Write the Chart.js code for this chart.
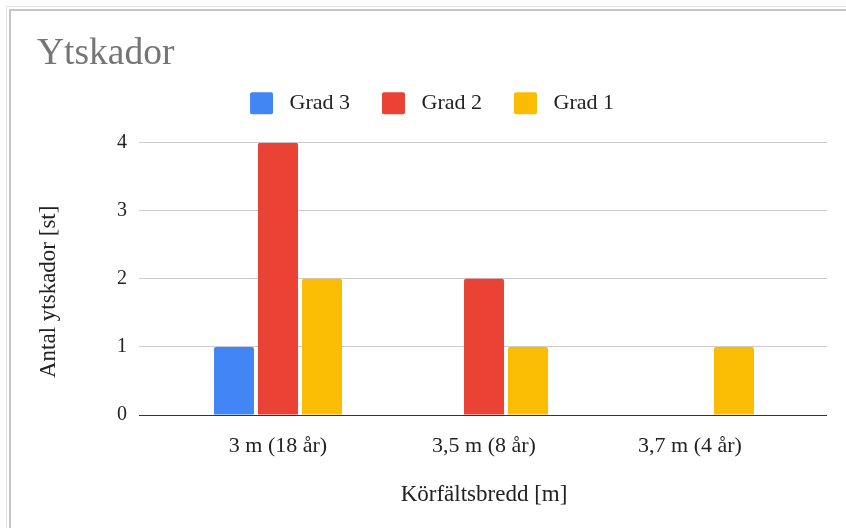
<!DOCTYPE html>
<html>
<head>
<meta charset="utf-8">
<script src="https://cdn.jsdelivr.net/npm/chart.js@4/dist/chart.umd.min.js"></script>
<style>
  html, body { margin: 0; padding: 0; background: #fff; }
  #wrap { position: relative; width: 846px; height: 528px; overflow: hidden; }
  .frame-outer { position: absolute; left: 6px; top: 6px; width: 1000px; height: 1000px;
                 border-left: 1px solid #e0e0e0; border-top: 1px solid #e0e0e0; }
  .frame-inner { position: absolute; left: 9px; top: 9px; width: 1000px; height: 1000px;
                 border-left: 2px solid #c6c6c6; border-top: 2px solid #c6c6c6; }
  canvas { position: absolute; left: 0; top: 0; }
</style>
</head>
<body>
<div id="wrap">
  <div class="frame-outer"></div>
  <div class="frame-inner"></div>
  <canvas id="chart" width="846" height="528"></canvas>
</div>
<script>
// Lane widths (with years of data) and number of surface defects per grade
const categories = ['3 m (18 år)', '3,5 m (8 år)', '3,7 m (4 år)'];
const grad3 = [1, 0, 0];
const grad2 = [4, 2, 0];
const grad1 = [2, 1, 1];
const yTicks = [0, 1, 2, 3, 4];

const chartTitle = 'Ytskador';
const xAxisTitle = 'Körfältsbredd [m]';
const yAxisTitle = 'Antal ytskador [st]';

const FONT = '"Liberation Serif", "Times New Roman", serif';
const TEXT = '#222222';
const gridColor = (ctx) => (ctx.tick && ctx.tick.value === 0 ? '#333333' : '#cccccc');

// Rotated y-axis title, placed slightly below the plot's vertical centre
const yTitlePlugin = {
  id: 'yTitle',
  afterDraw(chart) {
    const { ctx, chartArea } = chart;
    ctx.save();
    ctx.translate(chart.options.layout.padding.left + 12, (chartArea.top + chartArea.bottom) / 2 + 13);
    ctx.rotate(-Math.PI / 2);
    ctx.font = '23px ' + FONT;
    ctx.fillStyle = TEXT;
    ctx.textAlign = 'center';
    ctx.textBaseline = 'middle';
    ctx.fillText(yAxisTitle, 0, 0);
    ctx.restore();
  }
};

const barStyle = {
  borderRadius: 2,
  borderSkipped: 'start',
  categoryPercentage: 0.641,
  barPercentage: 0.909
};

new Chart(document.getElementById('chart'), {
  type: 'bar',
  data: {
    labels: categories,
    datasets: [
      { label: 'Grad 3', data: grad3, backgroundColor: '#4285F4', ...barStyle },
      { label: 'Grad 2', data: grad2, backgroundColor: '#EA4335', ...barStyle },
      { label: 'Grad 1', data: grad1, backgroundColor: '#FBBC04', ...barStyle }
    ]
  },
  options: {
    responsive: false,
    animation: false,
    devicePixelRatio: 1,
    layout: { padding: { top: 10, left: 37, right: 19, bottom: 15 } },
    plugins: {
      title: {
        display: true,
        text: chartTitle,
        align: 'start',
        color: '#757575',
        font: { family: FONT, size: 37.5, weight: 'normal', lineHeight: 0.3 },
        padding: { top: 39, bottom: 0 }
      },
      legend: {
        position: 'top',
        labels: {
          boxWidth: 23,
          boxHeight: 22,
          padding: 32,
          color: TEXT,
          font: { family: FONT, size: 22 },
          useBorderRadius: true,
          borderRadius: 2,
          generateLabels: (chart) =>
            Chart.defaults.plugins.legend.labels.generateLabels(chart)
              .map((item) => ({ ...item, text: ' ' + item.text }))
        }
      },
      tooltip: { enabled: false }
    },
    scales: {
      x: {
        type: 'category',
        position: 'bottom',
        grid: { display: false },
        border: { display: false },
        ticks: { color: TEXT, font: { family: FONT, size: 22 }, padding: 10, maxRotation: 0 },
        title: {
          display: true,
          text: xAxisTitle,
          color: TEXT,
          font: { family: FONT, size: 23 },
          padding: { top: 4, bottom: 4 }
        },
        afterFit: (s) => { s.height = 98; }
      },
      xTop: {
        type: 'category',
        position: 'top',
        grid: { display: false },
        border: { display: false },
        ticks: { display: false },
        afterFit: (s) => { s.height = 18.4; }
      },
      y: {
        type: 'linear',
        position: 'left',
        min: 0,
        max: 4,
        afterBuildTicks: (s) => { s.ticks = yTicks.map((v) => ({ value: v })); },
        grid: { color: gridColor, drawTicks: true, tickLength: 36, lineWidth: 1 },
        border: { display: false },
        ticks: { color: TEXT, font: { family: FONT, size: 20 }, padding: 12 },
        afterFit: (s) => { s.width = 138; }
      },
      y2: {
        type: 'linear',
        position: 'right',
        min: 0,
        max: 4,
        afterBuildTicks: (s) => { s.ticks = yTicks.map((v) => ({ value: v })); },
        grid: { color: gridColor, drawTicks: true, tickLength: 34, drawOnChartArea: false, lineWidth: 1 },
        border: { display: false },
        ticks: { display: false },
        afterFit: (s) => { s.width = 34; }
      }
    }
  },
  plugins: [yTitlePlugin]
});
</script>
</body>
</html>
